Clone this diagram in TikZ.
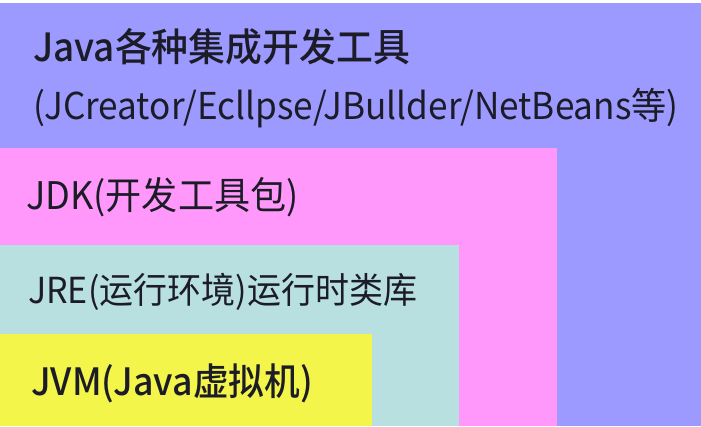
\documentclass[tikz,border=0pt]{standalone}
\usepackage{fontspec}
\setmainfont[FakeStretch=0.95]{Noto Sans CJK SC}
\newfontfamily\medfont[FakeStretch=0.95,UprightFont={* Medium}]{Noto Sans CJK SC}
\definecolor{idepurple}{RGB}{156,154,255}
\definecolor{jdkpink}{RGB}{255,152,250}
\definecolor{jrecyan}{RGB}{184,224,224}
\definecolor{jvmyellow}{RGB}{243,245,75}
\definecolor{ink}{RGB}{28,28,40}
\begin{document}
\begin{tikzpicture}[x=1pt,y=-1pt,lbl/.style={anchor=west,inner sep=0pt,text=ink}]
\useasboundingbox(0,0)rectangle(701,426);
\fill[white](0,0)rectangle(701,426);
\fill[idepurple](0,3)rectangle(701,426);
\fill[jdkpink](0,148)rectangle(557,426);
\fill[jrecyan](0,245)rectangle(459,426);
\fill[jvmyellow](0,334)rectangle(372,426);
\node[lbl,font=\fontsize{38.8}{44}\medfont](ide)at(33,47){Java各种集成开发工具};
\node[lbl,font=\fontsize{37}{44}\selectfont](tools)at(33,108){(JCreator/Ecllpse/JBullder/NetBeans等)};
\node[lbl,font=\fontsize{38}{44}\selectfont](jdk)at(26,197){JDK(开发工具包)};
\node[lbl,font=\fontsize{35.8}{44}\selectfont](jre)at(28,292){JRE(运行环境)运行时类库};
\node[lbl,font=\fontsize{37.6}{44}\medfont](jvm)at(31,383){JVM(Java虚拟机)};
\end{tikzpicture}
\end{document}
